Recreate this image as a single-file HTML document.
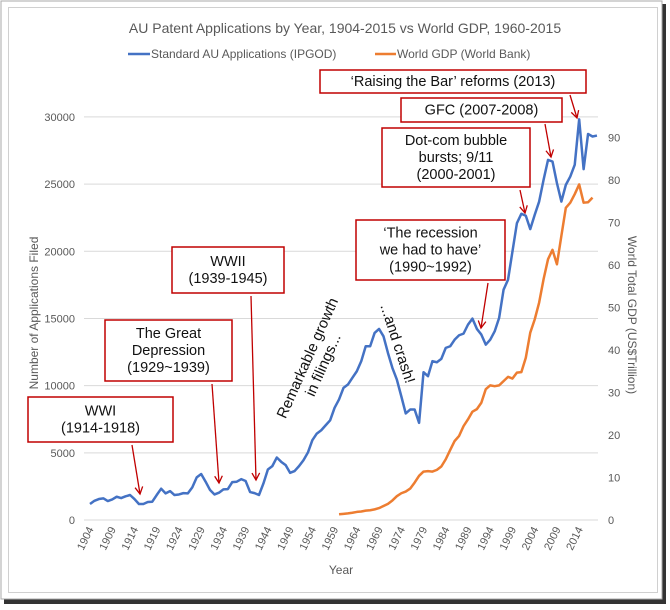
<!DOCTYPE html>
<html><head><meta charset="utf-8"><style>
body{margin:0;background:#fff;width:670px;height:605px;overflow:hidden;font-family:"Liberation Sans",sans-serif}
</style></head><body>
<svg id="chart" width="670" height="605" xmlns="http://www.w3.org/2000/svg" font-family="Liberation Sans, sans-serif">
<rect x="4" y="4" width="662" height="600" fill="#333"/>
<rect x="1" y="1" width="661" height="598" fill="#fff" stroke="#aaa"/>
<rect x="8.5" y="7.5" width="649" height="585" fill="#fff" stroke="#d0d0d0"/>
<text x="345" y="33" text-anchor="middle" font-size="14" fill="#595959">AU Patent Applications by Year, 1904-2015 vs World GDP, 1960-2015</text>
<g font-size="12" fill="#595959">
<line x1="128" y1="54" x2="150" y2="54" stroke="#4472c4" stroke-width="2.5"/>
<text x="151" y="58">Standard AU Applications (IPGOD)</text>
<line x1="375" y1="54" x2="396" y2="54" stroke="#ed7d31" stroke-width="2.5"/>
<text x="397" y="58">World GDP (World Bank)</text>
</g>
<g id="grid"></g><g id="axes"></g><g id="series"></g>
<text transform="translate(38,313) rotate(-90)" text-anchor="middle" font-size="12" fill="#595959">Number of Applications Filed</text>
<text transform="translate(628,315) rotate(90)" text-anchor="middle" font-size="12" fill="#595959">World Total GDP (US$Trillion)</text>
<text x="341" y="574" text-anchor="middle" font-size="12" fill="#595959">Year</text>
<g id="notes" font-size="14.5" fill="#111"></g>
</svg>
<script>
const years=[];for(let y=1904;y<=2018;y++)years.push(y);
const apps=[1190,1430,1560,1610,1410,1530,1730,1630,1760,1860,1560,1190,1190,1340,1360,1860,2330,1980,2150,1860,1900,2000,1980,2430,3170,3420,2850,2230,1900,2030,2280,2300,2820,2850,3040,2900,2080,2000,1860,2720,3760,4010,4650,4330,4080,3510,3640,4010,4450,5020,5940,6430,6680,7050,7420,8350,8970,9830,10080,10580,11070,11820,12930,12930,13920,14220,13670,12430,11320,10450,9210,7930,8220,8220,7230,11000,10700,11820,11740,11990,12810,12930,13420,13750,13870,14540,14990,14220,13800,13050,13420,14040,15040,17140,17880,19990,22090,22790,22640,21650,22710,23700,25320,26800,26680,25070,23700,24940,25560,26430,29820,26110,28730,28540,28610];
const gdpYears=[];for(let y=1960;y<=2017;y++)gdpYears.push(y);
const gdp=[1.35,1.45,1.55,1.7,1.9,2.0,2.2,2.3,2.5,2.8,3.3,3.8,4.6,5.6,6.3,6.7,7.4,8.8,10.4,11.4,11.5,11.4,11.8,12.6,14.3,16.5,18.6,19.8,22.1,23.7,25.5,26.1,27.6,30.8,31.7,31.5,31.7,32.7,33.7,33.3,34.7,34.8,38.2,44.1,47.2,51.2,56.7,61.4,63.6,60.2,66.9,73.5,74.7,76.7,79.0,74.7,74.8,75.9];
const leftTicks=[0,5000,10000,15000,20000,25000,30000];
const rightTicks=[0,10,20,30,40,50,60,70,80,90];
const xTickYears=[1904,1909,1914,1919,1924,1929,1934,1939,1944,1949,1954,1959,1964,1969,1974,1979,1984,1989,1994,1999,2004,2009,2014];
const NS='http://www.w3.org/2000/svg';
const X=y=>90+(y-1904)*4.447;
const YL=v=>520-v*0.013437;
const YR=v=>520-v*4.2478;
function mk(t,a,p){const e=document.createElementNS(NS,t);for(const k in a)e.setAttribute(k,a[k]);p.appendChild(e);return e;}
const grid=document.getElementById('grid'),axes=document.getElementById('axes'),series=document.getElementById('series'),notes=document.getElementById('notes');
leftTicks.forEach(v=>{
 const l=mk('line',{x1:84,x2:598,y1:YL(v),y2:YL(v),stroke:'#d9d9d9','stroke-width':1},grid);
 
 
 const t=mk('text',{x:75,y:YL(v)+4,'text-anchor':'end','font-size':11,fill:'#595959'},axes);
 
 
 t.textContent=v;
});
rightTicks.forEach(v=>{
 const t=mk('text',{x:608,y:YR(v)+4,'font-size':11,fill:'#595959'},axes);
 
 
 t.textContent=v;
});
xTickYears.forEach(y=>{
 const t=mk('text',{transform:`translate(${X(y)+4},${529}) rotate(-64)`,'text-anchor':'end','font-size':11,fill:'#595959'},axes);
 
 
 t.textContent=y;
});
const p1=mk('polyline',{points:apps.map((v,i)=>X(years[i])+','+YL(v)).join(' '),fill:'none',stroke:'#4472c4','stroke-width':2.5,'stroke-linejoin':'round'},series);


const p2=mk('polyline',{points:gdp.map((v,i)=>X(gdpYears[i])+','+YR(v)).join(' '),fill:'none',stroke:'#ed7d31','stroke-width':2.5,'stroke-linejoin':'round'},series);


const boxes=[
 ['raising-the-bar-note',320,70,266,23,["‘Raising the Bar’ reforms (2013)"],[570,95,577,118]],
 ['gfc-note',401,98,161,24,["GFC (2007-2008)"],[545,124,551,157]],
 ['dotcom-note',382,128,148,59,["Dot-com bubble","bursts; 9/11","(2000-2001)"],[520,190,525,213]],
 ['recession-note',356,220,149,60,["‘The recession","we had to have’","(1990~1992)"],[488,283,481,328]],
 ['wwii-note',172,247,112,46,["WWII","(1939-1945)"],[251,296,256,480]],
 ['depression-note',105,320,127,61,["The Great","Depression","(1929~1939)"],[212,384,219,483]],
 ['wwi-note',28,397,145,45,["WWI","(1914-1918)"],[132,445,140,494]]
];
boxes.forEach(b=>{
 const g=mk('g',{},notes);
 
 
 mk('rect',{x:b[1],y:b[2],width:b[3],height:b[4],fill:'#fff',stroke:'#c00000','stroke-width':1.5},g);
 const n=b[5].length,lh=17,top=b[2]+b[4]/2-(n*lh)/2+13;
 b[5].forEach((s,i)=>{const t=mk('text',{x:b[1]+b[3]/2,y:top+i*lh,'text-anchor':'middle'},g);t.textContent=s;});
 const a=b[6];
 mk('line',{x1:a[0],y1:a[1],x2:a[2],y2:a[3],stroke:'#c00000','stroke-width':1.3},g);
 const ang=Math.atan2(a[3]-a[1],a[2]-a[0]);
 const h=(d)=>[a[2]-8*Math.cos(ang+d),a[3]-8*Math.sin(ang+d)];
 const q=h(0.5),r=h(-0.5);
 mk('polyline',{points:`${q[0]},${q[1]} ${a[2]},${a[3]} ${r[0]},${r[1]}`,fill:'none',stroke:'#c00000','stroke-width':1.3},g);
});
const g1=mk('text',{transform:'translate(312,360) rotate(-66)','text-anchor':'middle','font-size':15},notes);


mk('tspan',{x:0,dy:0},g1).textContent='Remarkable growth';
mk('tspan',{x:0,dy:17},g1).textContent='in filings...';
const g2=mk('text',{transform:'translate(393,345) rotate(72)','text-anchor':'middle','font-size':15},notes);


g2.textContent='...and crash!';
</script>
</body></html>
